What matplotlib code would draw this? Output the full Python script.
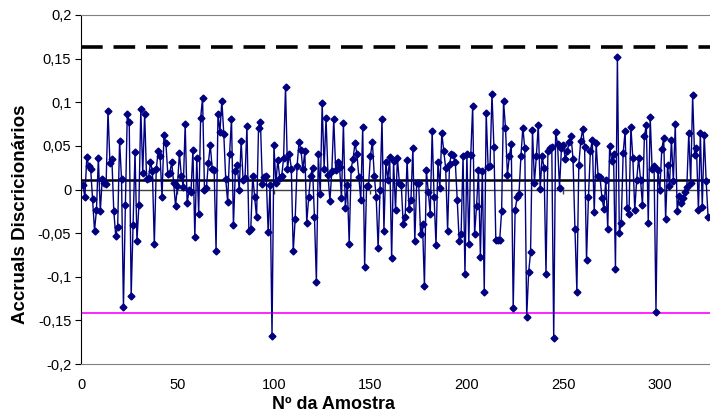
import numpy as np
import matplotlib.pyplot as plt

plt.rcParams['font.family'] = ['Liberation Sans', 'DejaVu Sans']

# Accruals discricionários por amostra
accruals = [
    0.005, -0.009, 0.037, 0.027, 0.024, -0.011, -0.047, -0.024, 0.036, -0.025,
    0.012, 0.008, 0.006, 0.090, 0.030, 0.035, -0.025, -0.053, -0.043, 0.056,
    0.012, -0.135, -0.018, 0.087, 0.077, -0.122, -0.041, 0.043, -0.059, -0.018,
    0.092, 0.019, 0.087, 0.012, 0.013, 0.031, 0.021, -0.063, 0.023, 0.044,
    0.038, -0.009, 0.063, 0.053, 0.018, 0.019, 0.031, 0.008, -0.019, 0.004,
    0.042, 0.016, 0.003, 0.075, -0.016, -0.001, -0.003, 0.045, -0.055, 0.036,
    -0.028, 0.082, 0.105, 0.000, 0.002, 0.030, 0.051, 0.024, 0.022, -0.070,
    0.087, 0.066, 0.102, 0.064, 0.012, -0.014, 0.041, 0.081, -0.041, 0.021,
    0.028, -0.001, 0.056, 0.011, 0.013, 0.073, -0.047, -0.045, 0.016, -0.009,
    -0.032, 0.070, 0.077, 0.006, 0.014, 0.016, -0.049, 0.005, -0.168, 0.051,
    0.007, 0.034, 0.013, 0.015, 0.036, 0.118, 0.023, 0.041, 0.024, -0.071,
    -0.034, 0.027, 0.055, 0.045, 0.023, 0.044, -0.038, -0.009, 0.015, 0.025,
    -0.032, -0.106, 0.041, -0.005, 0.099, 0.024, 0.082, 0.017, -0.013, 0.021,
    0.081, 0.022, 0.031, 0.026, -0.010, 0.076, -0.021, 0.005, -0.062, 0.024,
    0.035, 0.053, 0.041, 0.014, -0.012, 0.072, -0.089, 0.004, 0.004, 0.038,
    0.055, 0.016, -0.009, -0.067, 0.000, 0.081, -0.047, 0.031, 0.011, 0.037,
    -0.079, 0.033, -0.023, 0.036, 0.008, 0.005, -0.040, -0.032, 0.034, -0.022,
    -0.012, 0.048, -0.059, 0.008, 0.008, -0.051, -0.040, -0.111, 0.022, -0.003,
    -0.028, 0.067, -0.009, -0.064, 0.032, 0.002, 0.065, 0.044, 0.025, -0.047,
    0.029, 0.041, 0.039, 0.031, -0.012, -0.059, -0.051, 0.038, -0.097, 0.041,
    -0.062, 0.039, 0.096, -0.051, -0.019, 0.022, -0.077, 0.021, -0.117, 0.088,
    0.026, 0.027, 0.110, 0.049, -0.058, -0.058, -0.058, -0.025, 0.101, 0.071,
    0.017, 0.038, 0.052, -0.136, -0.024, -0.009, -0.005, 0.038, 0.071, 0.047,
    -0.146, -0.095, -0.072, 0.068, 0.008, 0.038, 0.074, 0.001, 0.038, 0.025,
    -0.097, 0.044, 0.047, 0.049, -0.170, 0.066, 0.052, 0.002, 0.047, 0.051,
    0.035, 0.044, 0.054, 0.061, 0.035, -0.045, -0.117, 0.028, 0.056, 0.069,
    0.049, -0.081, -0.009, 0.044, 0.057, -0.026, 0.053, 0.016, 0.014, -0.010,
    -0.022, 0.011, -0.045, 0.050, 0.033, 0.041, -0.091, 0.152, -0.050, -0.038,
    0.042, 0.067, -0.021, -0.028, 0.072, 0.036, -0.023, 0.011, 0.036, 0.011,
    -0.018, 0.061, 0.074, -0.038, 0.083, 0.024, 0.027, -0.140, 0.022, -0.001,
    0.046, 0.059, -0.034, 0.028, 0.004, 0.057, 0.010, 0.075, -0.025, -0.007,
    -0.015, -0.010, -0.003, 0.003, 0.065, 0.008, 0.108, 0.040, 0.047, -0.024,
    0.065, -0.020, 0.063, 0.010, -0.031,
]
amostra = np.arange(1, len(accruals) + 1)

media = 0.0107
limite_sup = 0.163
limite_inf = -0.142

y_ticks = [-0.2, -0.15, -0.1, -0.05, 0, 0.05, 0.1, 0.15, 0.2]
y_labels = ['-0,2', '-0,15', '-0,1', '-0,05', '0', '0,05', '0,1', '0,15', '0,2']
x_ticks = [0, 50, 100, 150, 200, 250, 300]

fig = plt.figure(figsize=(7.1, 4.16), dpi=100)
ax = fig.add_axes([81 / 710, 52 / 416, 629 / 710, 349 / 416])

ax.axhline(limite_sup, color='black', lw=2.6, dashes=(6, 3))
ax.axhline(limite_inf, color='#ff00ff', lw=1.2)
ax.axhline(0, color='#404040', lw=1, zorder=1)
ax.vlines(x_ticks[1:], -0.005, 0, color='#404040', lw=1, zorder=1)
ax.axhline(media, color='black', lw=1.8, zorder=2)

ax.plot(amostra, accruals, color='#000080', lw=1, marker='D', ms=3.5,
        markerfacecolor='#000080', markeredgecolor='#000080', zorder=3)

ax.set_xlim(0, 326)
ax.set_ylim(-0.2, 0.2)
ax.set_yticks(y_ticks)
ax.set_yticklabels(y_labels)
ax.set_xticks(x_ticks)

ax.spines['right'].set_visible(False)
ax.spines['top'].set_color('#808080')
ax.spines['bottom'].set_color('#808080')
ax.spines['left'].set_color('black')
ax.tick_params(axis='y', direction='out', length=4, labelsize=10.5, pad=3)
ax.tick_params(axis='x', length=0, labelsize=10.5, pad=10)

ax.set_ylabel('Accruals Discricionários', fontsize=13.5, fontweight='bold')
ax.yaxis.set_label_coords(-0.083, 0.43)
fig.text(334 / 710, 3 / 416, 'Nº da Amostra', fontsize=13, fontweight='bold',
         ha='center', va='bottom')

fig.savefig('out.png', dpi=100)
